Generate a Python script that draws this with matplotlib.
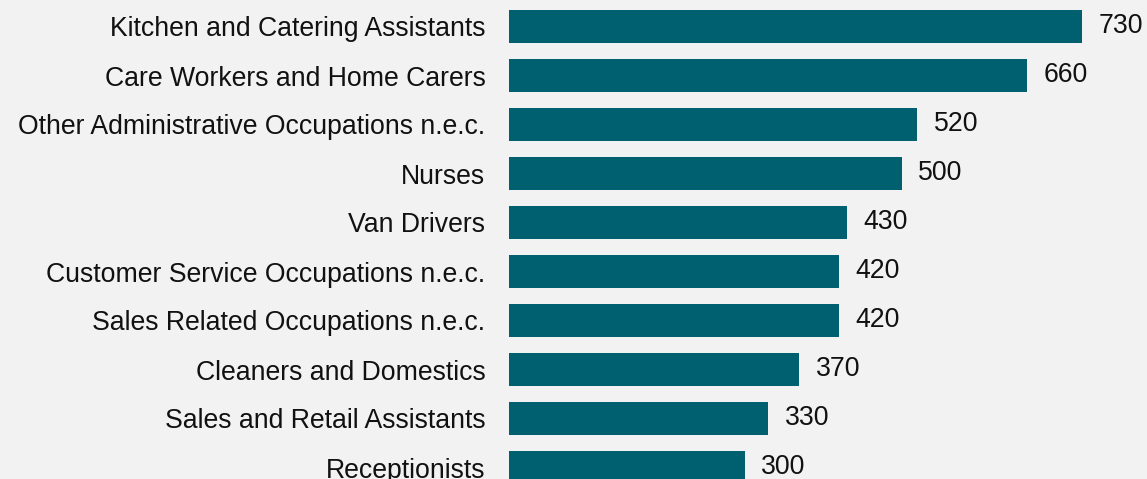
import matplotlib.pyplot as plt

occupations = [
    "Kitchen and Catering Assistants",
    "Care Workers and Home Carers",
    "Other Administrative Occupations n.e.c.",
    "Nurses",
    "Van Drivers",
    "Customer Service Occupations n.e.c.",
    "Sales Related Occupations n.e.c.",
    "Cleaners and Domestics",
    "Sales and Retail Assistants",
    "Receptionists",
]
counts = [730, 660, 520, 500, 430, 420, 420, 370, 330, 300]

bg = "#f2f2f2"
bar_color = "#00606f"

plt.rcParams["font.family"] = ["Liberation Sans", "DejaVu Sans"]

fig = plt.figure(figsize=(11.47, 4.79), dpi=100, facecolor=bg)
# axes runs from the bar baseline to the right edge, full height
ax = fig.add_axes([509 / 1147, 0, 1 - 509 / 1147, 1], facecolor=bg)

pos = list(range(len(occupations)))
ax.barh(pos, counts, height=0.68, color=bar_color)

for p, v in zip(pos, counts):
    ax.text(v + 21, p - 0.01, str(v), va="center", ha="left", fontsize=19.2, color="#111111")

ax.set_yticks(pos)
ax.set_yticklabels(occupations, fontsize=19.2, color="#111111")
ax.tick_params(axis="y", length=0, pad=17)
ax.set_xticks([])
ax.set_xlim(0, 638 / 0.785)
ax.set_ylim((479 - 26.5) / 49, -26.5 / 49)
for s in ax.spines.values():
    s.set_visible(False)

fig.savefig("out.png", dpi=100, facecolor=bg)
